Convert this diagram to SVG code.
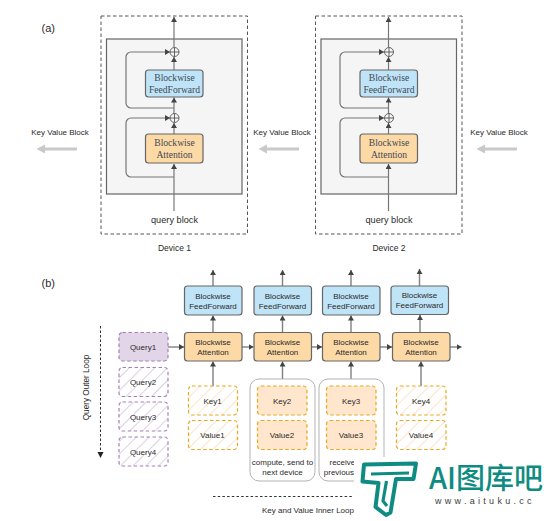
<svg xmlns="http://www.w3.org/2000/svg" width="554" height="521" viewBox="0 0 554 521">
<style>
text{font-family:"Liberation Sans",Arial,sans-serif;fill:#2a2a2a;text-anchor:middle}
.s8{font-size:8px}.s9{font-size:9.2px}.dev{font-size:8.5px}
.ser{font-family:"Liberation Serif","Times New Roman",serif;font-size:9.6px;fill:#3f4a55}
.lab{font-size:11px;text-anchor:start}
.dash{fill:none;stroke:#555;stroke-width:1;stroke-dasharray:3.5 2.5}
.inner{fill:#f5f5f5;stroke:#666;stroke-width:1.2}
.blue{fill:#bfe4f8;stroke:#666;stroke-width:1.2}
.orange{fill:#fdd9a6;stroke:#666;stroke-width:1.2}
.line{fill:none;stroke:#777;stroke-width:1.2}
.thick{fill:none;stroke:#808080;stroke-width:1.4}
.circ{fill:none;stroke:#555;stroke-width:.9}
.q{stroke:#a680b8;stroke-width:1.2;stroke-dasharray:3.5 2.5}
.k{stroke:#e8a91c;stroke-width:1.2;stroke-dasharray:3.5 2.5}
.grp{fill:#fff;stroke:#aaa;stroke-width:.9}
.big{fill:none;stroke:#c9c9c9;stroke-width:3}
.bighead{fill:#c9c9c9}
.logo{fill:none;stroke:#0f8c82;stroke-width:4;stroke-linejoin:round}
</style>
<defs>
<marker id="ah" markerUnits="userSpaceOnUse" markerWidth="6" markerHeight="6" refX="5" refY="3" orient="auto"><path d="M0 0L5 3L0 6z" fill="#444"/></marker>
<pattern id="hq" patternUnits="userSpaceOnUse" width="9" height="9" patternTransform="rotate(45)"><rect width="9" height="9" fill="#fff"/><line x1="0" y1="0" x2="0" y2="9" stroke="#ddd0e6" stroke-width="2"/></pattern>
<pattern id="hk" patternUnits="userSpaceOnUse" width="9" height="9" patternTransform="rotate(45)"><rect width="9" height="9" fill="#fff"/><line x1="0" y1="0" x2="0" y2="9" stroke="#fde3cb" stroke-width="2"/></pattern>
</defs>
<rect width="554" height="521" fill="#fff"/>
<text class="lab" x="41.5" y="31.5">(a)</text>
<text class="lab" x="41.5" y="286.5">(b)</text>

<g id="device1">
<rect class="dash" x="101" y="16" width="146.500" height="218"/>
<rect class="inner" x="106.500" y="39" width="135.500" height="155"/>
<text class="dev" x="174.500" y="251">Device 1</text>
</g>
<g id="device2">
<rect class="dash" x="315.500" y="16" width="146.500" height="218"/>
<rect class="inner" x="321" y="39" width="135.500" height="155"/>
<text class="dev" x="389" y="251">Device 2</text>
</g>

<g id="connectors">
<g id="conn-a1">
<path class="line" d="M174 211V164" marker-end="url(#ah)"/>
<path class="line" d="M174 134V123" marker-end="url(#ah)"/>
<path class="line" d="M174 113.500V97.500" marker-end="url(#ah)"/>
<path class="line" d="M174 70V57" marker-end="url(#ah)"/>
<path class="line" d="M174 47V17" marker-end="url(#ah)"/>
<path class="line" d="M174 177H131a5 5 0 0 1-5-5V123a5 5 0 0 1 5-5H170" marker-end="url(#ah)"/>
<path class="line" d="M174 108H131a5 5 0 0 1-5-5V57a5 5 0 0 1 5-5H170" marker-end="url(#ah)"/>
</g>
<g id="conn-a2">
<path class="line" d="M388.500 211V164" marker-end="url(#ah)"/>
<path class="line" d="M388.500 134V123" marker-end="url(#ah)"/>
<path class="line" d="M388.500 113.500V97.500" marker-end="url(#ah)"/>
<path class="line" d="M388.500 70V57" marker-end="url(#ah)"/>
<path class="line" d="M388.500 47V17" marker-end="url(#ah)"/>
<path class="line" d="M388.500 177H345a5 5 0 0 1-5-5V123a5 5 0 0 1 5-5H384" marker-end="url(#ah)"/>
<path class="line" d="M388.500 108H345a5 5 0 0 1-5-5V57a5 5 0 0 1 5-5H384" marker-end="url(#ah)"/>
</g>
<g id="conn-kv">
<path class="big" d="M77 149H44"/><path class="bighead" d="M36.500 149L45 144.500V153.500z"/>
<path class="big" d="M299 149H266"/><path class="bighead" d="M258.500 149L267 144.500V153.500z"/>
<path class="big" d="M517 149H484"/><path class="bighead" d="M476.500 149L485 144.500V153.500z"/>
</g>
<g id="conn-b">
<path class="thick" d="M213 286V270" marker-end="url(#ah)"/>
<path class="thick" d="M282.500 286V270" marker-end="url(#ah)"/>
<path class="thick" d="M351 286V270" marker-end="url(#ah)"/>
<path class="thick" d="M419.500 286V269" marker-end="url(#ah)"/>
<path class="thick" d="M213 332.500V315.500" marker-end="url(#ah)"/>
<path class="thick" d="M282.500 332.500V315.500" marker-end="url(#ah)"/>
<path class="thick" d="M351 332.500V315.500" marker-end="url(#ah)"/>
<path class="thick" d="M420 332.500V315" marker-end="url(#ah)"/>
<path class="thick" d="M168 347H184" marker-end="url(#ah)"/>
<path class="thick" d="M242 347H253.500" marker-end="url(#ah)"/>
<path class="thick" d="M311 347H322" marker-end="url(#ah)"/>
<path class="thick" d="M380 347H392" marker-end="url(#ah)"/>
<path class="thick" d="M450 347H461.500" marker-end="url(#ah)"/>
<path class="thick" d="M213 386V361.500" marker-end="url(#ah)"/>
<path class="thick" d="M282.500 379V361.500" marker-end="url(#ah)"/>
<path class="thick" d="M351 386V361.500" marker-end="url(#ah)"/>
<path class="thick" d="M421 386V361.500" marker-end="url(#ah)"/>
<path d="M100.500 326V453" fill="none" stroke="#333" stroke-width="1" stroke-dasharray="2.500 2"/>
<path d="M97.500 452H103.500L100.500 458z" fill="#222"/>
<path d="M213 496.500H354" fill="none" stroke="#333" stroke-width="1" stroke-dasharray="2.500 2.200"/>
</g>
</g>

<g id="a1-sum2"><circle class="circ" cx="174.500" cy="52" r="4.500"/><path class="circ" d="M170 52H179M174.500 47.500V56.500"/></g>
<g id="a1-ff"><rect class="blue" x="145.500" y="70" width="57.500" height="27" rx="3"/><text class="ser" x="174.500" y="80.500">Blockwise</text><text class="ser" x="174.500" y="92.500">FeedForward</text></g>
<g id="a1-sum1"><circle class="circ" cx="174.500" cy="118" r="4.500"/><path class="circ" d="M170 118H179M174.500 113.500V122.500"/></g>
<g id="a1-att"><rect class="orange" x="145.500" y="134" width="57.500" height="29" rx="3"/><text class="ser" x="174.500" y="145.800">Blockwise</text><text class="ser" x="174.500" y="157.800">Attention</text></g>
<g id="a1-query"><text class="s9" x="174.500" y="222.500">query block</text></g>

<g id="a2-sum2"><circle class="circ" cx="389" cy="52" r="4.500"/><path class="circ" d="M384.500 52H393.500M389 47.500V56.500"/></g>
<g id="a2-ff"><rect class="blue" x="360" y="70" width="57.500" height="27" rx="3"/><text class="ser" x="389" y="80.500">Blockwise</text><text class="ser" x="389" y="92.500">FeedForward</text></g>
<g id="a2-sum1"><circle class="circ" cx="389" cy="118" r="4.500"/><path class="circ" d="M384.500 118H393.500M389 113.500V122.500"/></g>
<g id="a2-att"><rect class="orange" x="360" y="134" width="57.500" height="29" rx="3"/><text class="ser" x="389" y="145.800">Blockwise</text><text class="ser" x="389" y="157.800">Attention</text></g>
<g id="a2-query"><text class="s9" x="389" y="222.500">query block</text></g>

<g id="kv-labels">
<text class="s8" x="60" y="135">Key Value Block</text>
<text class="s8" x="282" y="135">Key Value Block</text>
<text class="s8" x="499" y="135">Key Value Block</text>
</g>

<g id="group-dev1"><rect class="grp" x="250" y="379" width="65" height="102" rx="9"/><text class="s8" x="282.500" y="465">compute, send to</text><text class="s8" x="282.500" y="475">next device</text></g>
<g id="group-dev2"><rect class="grp" x="319" y="379" width="65" height="102" rx="9"/><text class="s8" style="text-anchor:start" x="329.500" y="465">receive</text><text class="s8" style="text-anchor:start" x="323.800" y="475">previous</text></g>

<g id="ff1"><rect class="blue" x="184.500" y="286" width="57.500" height="29" rx="3"/><text class="s8" x="213" y="298.500">Blockwise</text><text class="s8" x="213" y="308.500">FeedForward</text></g>
<g id="ff2"><rect class="blue" x="254" y="286" width="57.500" height="29" rx="3"/><text class="s8" x="282.500" y="298.500">Blockwise</text><text class="s8" x="282.500" y="308.500">FeedForward</text></g>
<g id="ff3"><rect class="blue" x="322.500" y="286" width="57.500" height="29" rx="3"/><text class="s8" x="351" y="298.500">Blockwise</text><text class="s8" x="351" y="308.500">FeedForward</text></g>
<g id="ff4"><rect class="blue" x="391" y="286" width="57.500" height="28.500" rx="3"/><text class="s8" x="419.500" y="298">Blockwise</text><text class="s8" x="419.500" y="308">FeedForward</text></g>

<g id="att1"><rect class="orange" x="184.500" y="332.500" width="57.500" height="28.500" rx="3"/><text class="s8" x="213" y="344.500">Blockwise</text><text class="s8" x="213" y="354.500">Attention</text></g>
<g id="att2"><rect class="orange" x="254" y="332.500" width="57.500" height="28.500" rx="3"/><text class="s8" x="282.500" y="344.500">Blockwise</text><text class="s8" x="282.500" y="354.500">Attention</text></g>
<g id="att3"><rect class="orange" x="322.500" y="332.500" width="57.500" height="28.500" rx="3"/><text class="s8" x="351" y="344.500">Blockwise</text><text class="s8" x="351" y="354.500">Attention</text></g>
<g id="att4"><rect class="orange" x="392.500" y="332.500" width="57.500" height="28.500" rx="3"/><text class="s8" x="421" y="344.500">Blockwise</text><text class="s8" x="421" y="354.500">Attention</text></g>

<g id="query1"><rect class="q" fill="#e1d5e7" x="119" y="332.500" width="49" height="28.500" rx="3.500"/><text class="s8" x="143" y="349.800">Query1</text></g>
<g id="query2"><rect class="q" fill="url(#hq)" x="119" y="367.500" width="49" height="29" rx="3.500"/><text class="s8" x="143" y="385">Query2</text></g>
<g id="query3"><rect class="q" fill="url(#hq)" x="119" y="402" width="49" height="29" rx="3.500"/><text class="s8" x="143" y="419.800">Query3</text></g>
<g id="query4"><rect class="q" fill="url(#hq)" x="119" y="437" width="49" height="29" rx="3.500"/><text class="s8" x="143" y="454.800">Query4</text></g>

<g id="key1"><rect class="k" fill="url(#hk)" x="188.500" y="386" width="49" height="29" rx="3.500"/><text class="s8" x="212.500" y="403.500">Key1</text></g>
<g id="value1"><rect class="k" fill="url(#hk)" x="188.500" y="420.500" width="49" height="29" rx="3.500"/><text class="s8" x="212.500" y="438">Value1</text></g>
<g id="key2"><rect class="k" fill="#ffe6cc" x="257.500" y="386" width="49.500" height="29" rx="3.500"/><text class="s8" x="282" y="403.500">Key2</text></g>
<g id="value2"><rect class="k" fill="#ffe6cc" x="257.500" y="420.500" width="49.500" height="29" rx="3.500"/><text class="s8" x="282" y="438">Value2</text></g>
<g id="key3"><rect class="k" fill="#ffe6cc" x="326.500" y="386" width="49.500" height="29" rx="3.500"/><text class="s8" x="351" y="403.500">Key3</text></g>
<g id="value3"><rect class="k" fill="#ffe6cc" x="326.500" y="420.500" width="49.500" height="29" rx="3.500"/><text class="s8" x="351" y="438">Value3</text></g>
<g id="key4"><rect class="k" fill="url(#hk)" x="396.500" y="386" width="49.500" height="29" rx="3.500"/><text class="s8" x="421" y="403.500">Key4</text></g>
<g id="value4"><rect class="k" fill="url(#hk)" x="396.500" y="420.500" width="49.500" height="29" rx="3.500"/><text class="s8" x="421" y="438">Value4</text></g>

<text class="s8" style="font-size:8.2px" transform="translate(89 387.500) rotate(-90)">Query Outer Loop</text>
<text class="s8" x="308" y="513">Key and Value Inner Loop</text>

<g id="watermark">
<rect x="354" y="457" width="200" height="64" fill="#fff"/>
<path class="logo" d="M364 464.500L416 463.500L413.500 479H396L390.500 512.500L386 515L375.500 507L378.500 483L362.500 481.500z"/>
<path class="logo" d="M371 474L409 473M386.500 481L383 501L387 506" style="stroke-width:3.200"/>
<text x="429" y="488.500" style="text-anchor:start;font-family:'Noto Sans CJK SC','Noto Sans',sans-serif;font-size:29px;font-weight:500;fill:#0f8c82">AI图库吧</text>
<text x="435" y="504" style="text-anchor:start;font-size:9px;letter-spacing:3.300px;fill:#3c3c3c">www.aituku.cc</text>
</g>
</svg>
